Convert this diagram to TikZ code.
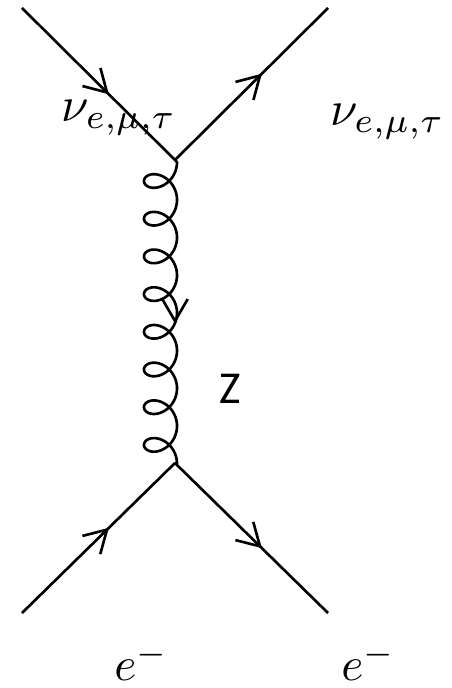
\documentclass[tikz,border=0pt]{standalone}
\usepackage{fontspec}
\setmainfont{Carlito}
\usetikzlibrary{
    arrows.meta,
    decorations.markings
}
\tikzset{
    fline/.style={
        line width=1.5pt, black,
        postaction={decorate},
        decoration={markings, mark=at position #1 with {\arrow{Straight Barb[length=12.5pt, width=14.5pt, line width=1.5pt]}}}
    },
    gline/.style={line width=1.5pt, black, line join=round},
    nulab/.style={scale=2.8, inner sep=0pt, text=black},
    elab/.style={scale=2.7, inner sep=0pt, text=black},
}

\begin{document}
\begin{tikzpicture}[x=0.02cm, y=-0.02cm]

    \useasboundingbox (0,0) rectangle (451,688);

    \coordinate (vtop) at (175,160);
    \coordinate (vbot) at (175,463);
    \coordinate (nuin) at (22,8);
    \coordinate (nuout) at (328,8);
    \coordinate (ein) at (22,613);
    \coordinate (eout) at (328,613);

    \draw [fline=0.57] (nuin) -- (vtop);
    \draw [fline=0.57] (vtop) -- (nuout);
    \draw [fline=0.57] (ein) -- (vbot);
    \draw [fline=0.57] (vbot) -- (eout);

    % coil, eight loops
    \draw [gline] (vtop) -- plot[domain=0:50.265, samples=500, smooth, variable=\t]
        ({160.5+16.5*cos(\t r)}, {181+6*(\t-pi)+15*sin(\t r)}) -- (vbot);
    \path [fline=0.54, draw=none] (vtop) -- (vbot);

    \node [nulab] (nul) at (119,118) {$\nu_{e,\mu,\tau}$};
    \node [nulab] (nur) at (387.5,122) {$\nu_{e,\mu,\tau}$};
    \node [font=\fontsize{26}{30}\selectfont, inner sep=0pt] (zlab) at (230,388.5) {Z};
    \node [elab] (el) at (141.5,662) {$e^-$};
    \node [elab] (er) at (368.5,662) {$e^-$};

\end{tikzpicture}
\end{document}
